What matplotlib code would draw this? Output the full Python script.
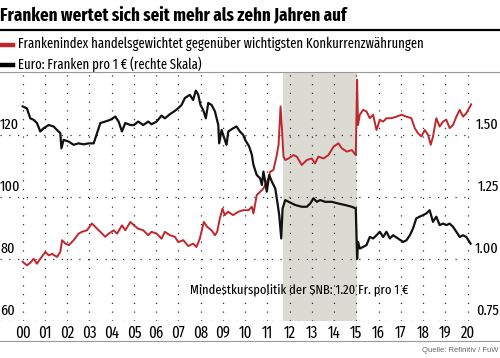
import matplotlib
matplotlib.use("Agg")
import matplotlib.pyplot as plt
from matplotlib.lines import Line2D

# EUR/CHF (right axis)
eur_years = [
    2000.00, 2000.19, 2000.34, 2000.49, 2000.64, 2000.79, 2000.94, 2001.17, 2001.39, 2001.54,
    2001.69, 2001.74, 2001.84, 2002.07, 2002.29, 2002.51, 2002.74, 2002.96, 2003.19, 2003.34,
    2003.49, 2003.71, 2003.94, 2004.16, 2004.31, 2004.46, 2004.61, 2004.84, 2005.00, 2005.19,
    2005.42, 2005.64, 2005.79, 2006.02, 2006.24, 2006.39, 2006.62, 2006.84, 2006.99, 2007.14,
    2007.29, 2007.51, 2007.66, 2007.78, 2007.89, 2007.99, 2008.11, 2008.23, 2008.34, 2008.49,
    2008.64, 2008.79, 2008.83, 2008.94, 2009.01, 2009.16, 2009.24, 2009.46, 2009.61, 2009.76,
    2009.91, 2010.00, 2010.18, 2010.30, 2010.37, 2010.52, 2010.67, 2010.75, 2010.82, 2010.90,
    2010.97, 2011.08, 2011.20, 2011.35, 2011.42, 2011.53, 2011.62, 2011.68, 2011.80, 2011.95,
    2012.25, 2012.54, 2012.77, 2012.92, 2013.07, 2013.22, 2013.37, 2013.59, 2013.89, 2014.19,
    2014.49, 2014.79, 2014.97, 2015.03, 2015.07, 2015.15, 2015.30, 2015.45, 2015.60, 2015.75,
    2015.90, 2016.05, 2016.20, 2016.35, 2016.50, 2016.65, 2016.87, 2017.10, 2017.25, 2017.40,
    2017.54, 2017.69, 2017.84, 2017.99, 2018.14, 2018.29, 2018.44, 2018.59, 2018.74, 2018.89,
    2019.04, 2019.19, 2019.34, 2019.49, 2019.64, 2019.79, 2019.94, 2020.13,
]
eur_chf = [
    1.615, 1.607, 1.567, 1.561, 1.548, 1.514, 1.527, 1.540, 1.534, 1.520,
    1.507, 1.446, 1.480, 1.473, 1.460, 1.466, 1.462, 1.466, 1.466, 1.507,
    1.548, 1.554, 1.561, 1.574, 1.554, 1.514, 1.548, 1.540, 1.540, 1.554,
    1.540, 1.554, 1.543, 1.554, 1.578, 1.567, 1.584, 1.597, 1.608, 1.621,
    1.649, 1.662, 1.641, 1.679, 1.662, 1.621, 1.601, 1.567, 1.629, 1.621,
    1.595, 1.540, 1.466, 1.520, 1.500, 1.460, 1.514, 1.527, 1.534, 1.514,
    1.500, 1.480, 1.453, 1.419, 1.379, 1.338, 1.325, 1.298, 1.352, 1.311,
    1.271, 1.338, 1.311, 1.284, 1.244, 1.176, 1.082, 1.203, 1.237, 1.230,
    1.217, 1.210, 1.210, 1.223, 1.244, 1.230, 1.237, 1.230, 1.230, 1.223,
    1.217, 1.210, 1.203, 1.000, 1.068, 1.041, 1.048, 1.055, 1.088, 1.082,
    1.095, 1.109, 1.088, 1.109, 1.082, 1.095, 1.082, 1.068, 1.075, 1.095,
    1.122, 1.163, 1.170, 1.176, 1.183, 1.196, 1.149, 1.170, 1.136, 1.142,
    1.136, 1.142, 1.129, 1.109, 1.088, 1.095, 1.088, 1.061,
]

# trade-weighted franc index (left axis)
idx_years = [
    2000.00, 2000.19, 2000.34, 2000.49, 2000.64, 2000.79, 2001.02, 2001.17, 2001.32, 2001.54,
    2001.69, 2001.77, 2001.92, 2002.07, 2002.29, 2002.51, 2002.66, 2002.89, 2003.11, 2003.26,
    2003.49, 2003.71, 2003.86, 2004.09, 2004.24, 2004.46, 2004.61, 2004.84, 2005.00, 2005.19,
    2005.42, 2005.64, 2005.79, 2006.02, 2006.24, 2006.39, 2006.62, 2006.84, 2006.99, 2007.22,
    2007.44, 2007.66, 2007.81, 2007.96, 2008.14, 2008.29, 2008.49, 2008.64, 2008.74, 2008.86,
    2008.98, 2009.08, 2009.23, 2009.46, 2009.69, 2009.91, 2010.15, 2010.30, 2010.37, 2010.52,
    2010.67, 2010.82, 2010.93, 2011.05, 2011.12, 2011.27, 2011.42, 2011.50, 2011.59, 2011.65,
    2011.72, 2011.80, 2011.95, 2012.17, 2012.32, 2012.54, 2012.77, 2012.99, 2013.14, 2013.29,
    2013.52, 2013.74, 2013.97, 2014.19, 2014.34, 2014.57, 2014.79, 2014.97, 2015.03, 2015.07,
    2015.15, 2015.30, 2015.45, 2015.60, 2015.75, 2015.90, 2016.05, 2016.20, 2016.35, 2016.57,
    2016.80, 2017.02, 2017.25, 2017.47, 2017.62, 2017.77, 2017.92, 2018.07, 2018.22, 2018.34,
    2018.44, 2018.59, 2018.74, 2018.89, 2019.04, 2019.19, 2019.34, 2019.49, 2019.64, 2019.79,
    2019.94, 2020.16,
]
chf_index = [
    79.0, 77.9, 78.7, 80.0, 78.4, 80.0, 82.2, 81.1, 81.6, 80.6,
    82.2, 86.0, 84.9, 84.4, 86.0, 88.1, 88.7, 89.2, 91.4, 90.3,
    88.7, 87.1, 88.1, 89.2, 88.1, 90.8, 89.2, 91.9, 90.8, 89.7,
    89.2, 87.6, 88.7, 88.1, 86.5, 88.7, 87.6, 87.1, 85.4, 86.0,
    84.1, 84.9, 83.8, 86.5, 91.9, 90.3, 89.2, 87.6, 88.7, 93.0,
    96.2, 94.1, 95.2, 94.1, 95.2, 95.7, 95.7, 96.8, 94.6, 100.6,
    101.6, 102.7, 104.3, 106.0, 108.1, 108.7, 113.5, 116.8, 129.2, 122.2,
    113.0, 111.9, 112.4, 113.5, 113.0, 110.3, 111.9, 112.4, 110.8, 113.0,
    112.4, 113.5, 116.2, 117.3, 115.7, 114.6, 115.1, 113.5, 137.8, 123.2,
    126.5, 128.1, 127.6, 125.4, 126.5, 121.6, 124.9, 124.3, 125.4, 125.4,
    125.9, 126.5, 125.9, 125.4, 122.2, 120.5, 119.5, 121.6, 120.0, 116.8,
    119.5, 125.4, 122.7, 124.3, 124.9, 122.2, 123.2, 125.9, 128.1, 125.9,
    127.0, 129.9,
]

floor_start, floor_end = 2011.68, 2015.04
year_ticks = list(range(2000, 2021))
left_ticks = [60, 80, 100, 120]
right_ticks = [0.75, 1.00, 1.25, 1.50]

RED = "#c0272d"
BLACK = "#111111"
SHADE = "#dcdbd3"
GRID = "#333333"
NARROW = ["Fira Sans Extra Condensed", "Fira Sans Condensed", "DejaVu Sans"]

W, H = 500, 358
fig = plt.figure(figsize=(W / 100, H / 100), dpi=100)


def fx(px):
    return px / W


def fy(py):
    return 1 - py / H


# ── header ──
fig.text(fx(0), fy(15), "Franken wertet sich seit mehr als zehn Jahren auf",
         family=NARROW, fontweight="bold", fontsize=13.2, va="center", ha="left")
fig.add_artist(Line2D([0, 1], [fy(30), fy(30)], color="black", lw=1.6))
fig.add_artist(Line2D([fx(0), fx(13)], [fy(45), fy(45)], color=RED, lw=3.2))
fig.text(fx(18), fy(44), "Frankenindex handelsgewichtet gegenüber wichtigsten Konkurrenzwährungen",
         family=NARROW, fontsize=9.9, va="center", ha="left")
fig.add_artist(Line2D([fx(0), fx(13)], [fy(65), fy(65)], color="black", lw=3.2))
fig.text(fx(18), fy(64), "Euro: Franken pro 1 € (rechte Skala)",
         family=NARROW, fontsize=9.9, va="center", ha="left")
fig.add_artist(Line2D([0, 1], [fy(72), fy(72)], color="#999999", lw=0.8))

# ── plot area ──
x_left_px, x_right_px = 0, 472
top_px, bot_px = 73, 320.7
ax = fig.add_axes([fx(x_left_px), fy(bot_px), fx(x_right_px - x_left_px), (bot_px - top_px) / H])
px_per_year = 22.25
x0 = 2000 - (22.7 - x_left_px) / px_per_year
x1 = 2000 + (x_right_px - 22.7) / px_per_year
ax.set_xlim(x0, x1)
ax.set_ylim(60, 140)
ax.axis("off")

ax.axvspan(floor_start, floor_end, color=SHADE, lw=0, zorder=0)
for yv in left_ticks:
    ax.axhline(yv, color=GRID, lw=0.9, ls=(0, (1, 6)), zorder=1)
for yr in year_ticks:
    ax.axvline(yr, color=GRID, lw=0.9, ls=(0, (1, 6)), zorder=1)

ax.plot(idx_years, chf_index, color=RED, lw=1.4, zorder=3)

ax2 = ax.twinx()
ax2.set_ylim(0.75, 1.75)
ax2.axis("off")
ax2.plot(eur_years, eur_chf, color=BLACK, lw=1.6, zorder=3)

# tick labels as text
for yv in left_ticks:
    ax.text(x0, yv + 1.0, f"{yv}", family=NARROW, fontsize=11, ha="left", va="bottom",
            zorder=4)
for yv in right_ticks:
    ax2.text(x0 + 499 / px_per_year, yv + 0.0125, f"{yv:.2f}", family=NARROW, fontsize=11,
             ha="right", va="bottom", clip_on=False)
for yr in year_ticks:
    fig.text(fx(22.7 + (yr - 2000) * px_per_year), fy(333), f"{yr % 100:02d}",
             family=NARROW, fontsize=11.5, ha="center", va="center")

fig.text(fx(299), fy(290), "Mindestkurspolitik der SNB: 1.20 Fr. pro 1 €",
         family=NARROW, fontsize=9.8, ha="center", va="center")

fig.add_artist(Line2D([0, 1], [fy(341), fy(341)], color="#999999", lw=0.8))
fig.text(fx(499), fy(351), "Quelle: Refinitiv / FuW", family="Liberation Sans",
         fontsize=5.5, color="#666666", ha="right", va="center")

fig.savefig("out.png", dpi=100)
